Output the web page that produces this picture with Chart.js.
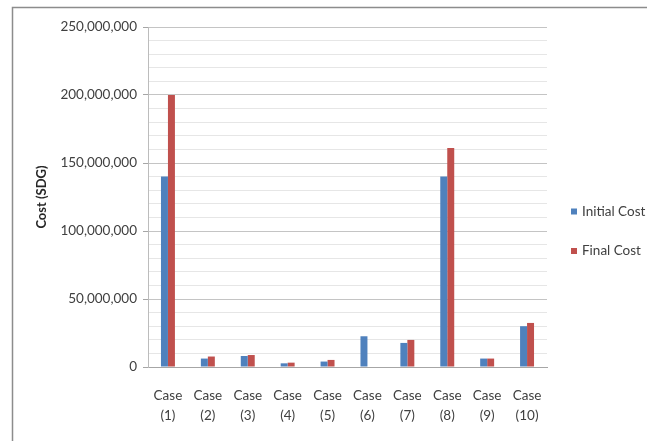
<!DOCTYPE html>
<html>
<head>
<meta charset="utf-8">
<script src="https://cdn.jsdelivr.net/npm/chart.js@4/dist/chart.umd.min.js"></script>
<style>
  html, body { margin: 0; padding: 0; background: #fff; }
  #wrap { position: relative; width: 647px; height: 441px; }
</style>
</head>
<body>
<div id="wrap"><canvas id="c" width="647" height="441"></canvas></div>
<script>
// Project cost comparison per case (SDG)
const categories = [
  ['Case', '(1)'], ['Case', '(2)'], ['Case', '(3)'], ['Case', '(4)'], ['Case', '(5)'],
  ['Case', '(6)'], ['Case', '(7)'], ['Case', '(8)'], ['Case', '(9)'], ['Case', '(10)']
];
const initialCost = [140000000, 6200000, 8100000, 2700000, 4000000, 22600000, 17700000, 140000000, 6200000, 30000000];
const finalCost   = [200000000, 7700000, 8800000, 3200000, 5200000, 0, 19900000, 161000000, 6200000, 32400000];
const seriesNames = ['Initial Cost', 'Final Cost'];
const yTickLabels = ['0', '50,000,000', '100,000,000', '150,000,000', '200,000,000', '250,000,000'];
const yMax = 250000000;
const yMinorStep = 10000000;
const yMajorStep = 50000000;

const blue = '#4f81bd';
const red = '#c0504d';
const FONT = 'Lato, "Open Sans", sans-serif';

// outer frame (top and left edges)
const framePlugin = {
  id: 'frame',
  beforeDraw(chart) {
    const ctx = chart.ctx;
    ctx.save();
    ctx.strokeStyle = '#8c8c8c';
    ctx.lineWidth = 1.5;
    ctx.beginPath();
    ctx.moveTo(12.5, 441);
    ctx.lineTo(12.5, 7.5);
    ctx.lineTo(647, 7.5);
    ctx.stroke();
    ctx.restore();
  }
};

// legend drawn to the right of the plot
const sideLegend = {
  id: 'sideLegend',
  afterDraw(chart) {
    const ctx = chart.ctx;
    const area = chart.chartArea;
    const x0 = area.right + 24;
    const yStart = 211.5;
    const gap = 39.5;
    ctx.save();
    ctx.font = '13.5px ' + FONT;
    ctx.textBaseline = 'middle';
    ctx.textAlign = 'left';
    chart.data.datasets.forEach((ds, i) => {
      const y = yStart + i * gap;
      ctx.fillStyle = ds.backgroundColor;
      ctx.fillRect(x0, y - 3, 6, 6);
      ctx.fillStyle = '#404040';
      ctx.fillText(ds.label, x0 + 11, y);
    });
    ctx.restore();
  }
};

new Chart(document.getElementById('c'), {
  type: 'bar',
  data: {
    labels: categories,
    datasets: [
      { label: seriesNames[0], data: initialCost, backgroundColor: blue },
      { label: seriesNames[1], data: finalCost, backgroundColor: red }
    ]
  },
  options: {
    responsive: false,
    animation: false,
    layout: { padding: { left: 34, top: 27, right: 100, bottom: 0 } },
    plugins: { legend: { display: false }, tooltip: { enabled: false } },
    datasets: { bar: { categoryPercentage: 0.35, barPercentage: 1 } },
    scales: {
      x: {
        afterFit(scale) { scale.height = 74; },
        grid: { display: false, drawTicks: false },
        border: { display: true, color: '#a6a6a6', width: 1 },
        ticks: {
          color: '#404040',
          padding: 19,
          maxRotation: 0,
          autoSkip: false,
          font: { family: FONT, size: 13.5, lineHeight: 1.48 }
        }
      },
      y: {
        min: 0,
        max: yMax,
        afterFit(scale) { scale.width = 114; },
        title: {
          display: true,
          text: 'Cost (SDG)',
          color: '#262626',
          padding: { top: 0, bottom: 0 },
          font: { family: FONT, size: 13, weight: 'bold' }
        },
        border: { display: true, color: '#bcbcbc', width: 1 },
        grid: {
          lineWidth: 1,
          tickLength: 5,
          color: (ctx) => (ctx.tick && ctx.tick.value % yMajorStep === 0) ? '#c4c4c4' : '#e6e6e6',
          tickColor: (ctx) => (ctx.tick && ctx.tick.value % yMajorStep === 0) ? '#a6a6a6' : 'rgba(0,0,0,0)'
        },
        ticks: {
          stepSize: yMinorStep,
          autoSkip: false,
          padding: 6,
          color: '#404040',
          font: { family: FONT, size: 13.5 },
          callback: (v) => (v % yMajorStep === 0) ? yTickLabels[v / yMajorStep] : ''
        }
      }
    }
  },
  plugins: [framePlugin, sideLegend]
});
</script>
</body>
</html>
